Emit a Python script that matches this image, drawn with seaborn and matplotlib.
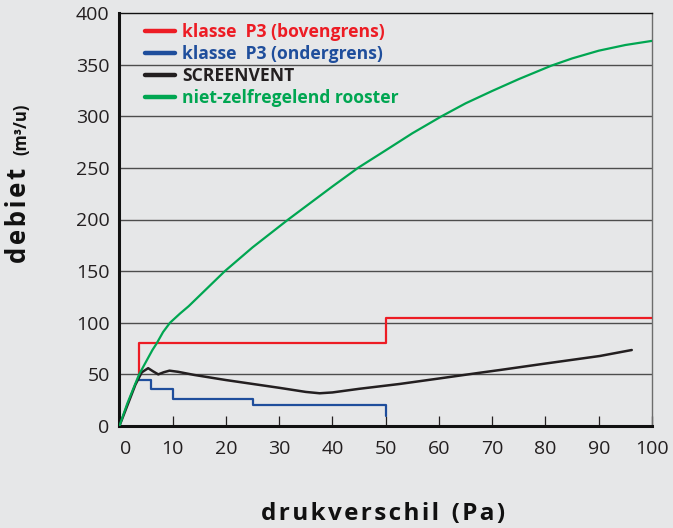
#!/usr/bin/env python3

import matplotlib
matplotlib.use("Agg")
from matplotlib import pyplot as plt
from matplotlib import transforms
from matplotlib.lines import Line2D
import numpy as np
import pandas as pd
import seaborn as sns

# Values (druk in Pa, debiet in m3/u)
boven_x = [3.7, 3.7, 50, 50, 100]
boven_y = [50, 80, 80, 105, 105]

onder_x = [3.7, 6, 6, 10, 10, 25, 25, 50, 50]
onder_y = [45, 45, 36, 36, 26, 26, 20, 20, 10]

screen_x = [0, 1.5, 3.0, 4.2, 5.4, 6.3, 7.3, 8.3, 9.4, 11, 14, 17, 20, 24, 30,
            35, 37.6, 40, 45, 52.6, 60, 67.7, 71.4, 80, 90.2, 96.2]
screen_y = [0, 20, 40, 52, 56, 53, 50, 52, 53.6, 52.5, 49.5, 47, 44.5, 41.5, 37,
            33, 31.7, 32.5, 36, 40.7, 46, 51.6, 54.2, 60.5, 67.8, 73.6]

rooster_x = [0, 1.5, 3.7, 6.2, 7, 8.2, 9.5, 11.4, 13, 15, 19.8, 25, 31.7, 40,
             44.8, 50, 55, 60.5, 65, 70, 75, 81.1, 85, 90, 95, 100]
rooster_y = [0, 22, 50, 73.6, 80, 91, 100, 109, 116, 126, 150, 173, 200, 232,
             250, 267, 283.5, 300, 312.5, 324.5, 336, 349, 356, 363.5, 369, 373]

labels = ["klasse  P3 (bovengrens)", "klasse  P3 (ondergrens)", "SCREENVENT",
          "niet-zelfregelend rooster"]
colors = ["#ed1c24", "#1f4e9c", "#231f20", "#00a651"]

BG = "#e6e7e8"


def spaced(text):
    # poor man's letter spacing with hair spaces, wider word gaps
    return "  ".join("\u200a".join(w) for w in text.split(" "))


def main():
    sns.set_style("white")
    plt.rcParams["font.family"] = ["Open Sans", "DejaVu Sans"]

    fig = plt.figure(figsize=(6.73, 5.28), dpi=100, facecolor=BG)
    ax = fig.add_axes([119.4 / 673, 1 - 426 / 528, (652 - 119.4) / 673,
                       (426 - 13) / 528])
    ax.set_facecolor(BG)

    series = [(boven_x, boven_y), (onder_x, onder_y),
              (screen_x, screen_y), (rooster_x, rooster_y)]
    widths = [1.6, 1.6, 1.8, 1.6]
    for (xs, ys), lab, col, lw in zip(series, labels, colors, widths):
        df = pd.DataFrame({"x": xs, "y": ys})
        sns.lineplot(data=df, x="x", y="y", sort=False, estimator=None,
                     color=col, linewidth=lw, ax=ax, zorder=3)

    ax.set_xlim(0, 100)
    ax.set_ylim(0, 400)
    ax.set_xticks(np.arange(0, 101, 10))
    ax.set_yticks(np.arange(0, 401, 50))
    ax.set_xlabel("")
    ax.set_ylabel("")

    for yv in range(50, 400, 50):
        ax.axhline(yv, color="#4d4d4d", linewidth=1.0, zorder=1)

    ax.tick_params(axis="x", direction="in", length=7.5, width=0.9,
                   colors="#231f20", labelsize=14, pad=10, bottom=True)
    ax.tick_params(axis="y", length=0, labelsize=14, pad=7,
                   colors="#231f20", left=False)

    # "0" label sits a little to the right in the reference
    lab0 = ax.get_xticklabels()[0]
    lab0.set_transform(lab0.get_transform() + transforms.ScaledTranslation(
        6 / 100, 0, fig.dpi_scale_trans))

    for side, lw, col in [("left", 2.2, "#111111"), ("bottom", 2.2, "#111111"),
                          ("top", 1.0, "#111111"), ("right", 1.0, "#6d6d6d")]:
        ax.spines[side].set_visible(True)
        ax.spines[side].set_linewidth(lw)
        ax.spines[side].set_color(col)

    handles = [Line2D([], [], color=c, linewidth=3.2) for c in colors]
    leg = ax.legend(handles, labels, loc="upper left",
                    bbox_to_anchor=(0.035, 0.993), frameon=False,
                    handlelength=1.7, handletextpad=0.42, labelspacing=0.24,
                    borderaxespad=0,
                    prop={"weight": "bold", "size": 12.6})
    for txt, c in zip(leg.get_texts(), colors):
        txt.set_color(c)

    fig.text(383 / 673, 1 - 514 / 528, spaced("drukverschil (Pa)"),
             ha="center", va="center", fontsize=17.5, fontweight="bold",
             color="#111111")
    fig.text(18.5 / 673, 1 - 215 / 528, spaced("debiet"), rotation=90,
             ha="center", va="center", fontsize=18.5, fontweight="bold",
             color="#111111")
    fig.text(21 / 673, 1 - 129 / 528, "(m³/u)", rotation=90, ha="center",
             va="center", fontsize=12, fontweight="bold", color="#111111")

    fig.savefig("out.png", dpi=100, facecolor=BG)


if __name__ == "__main__":
    main()
